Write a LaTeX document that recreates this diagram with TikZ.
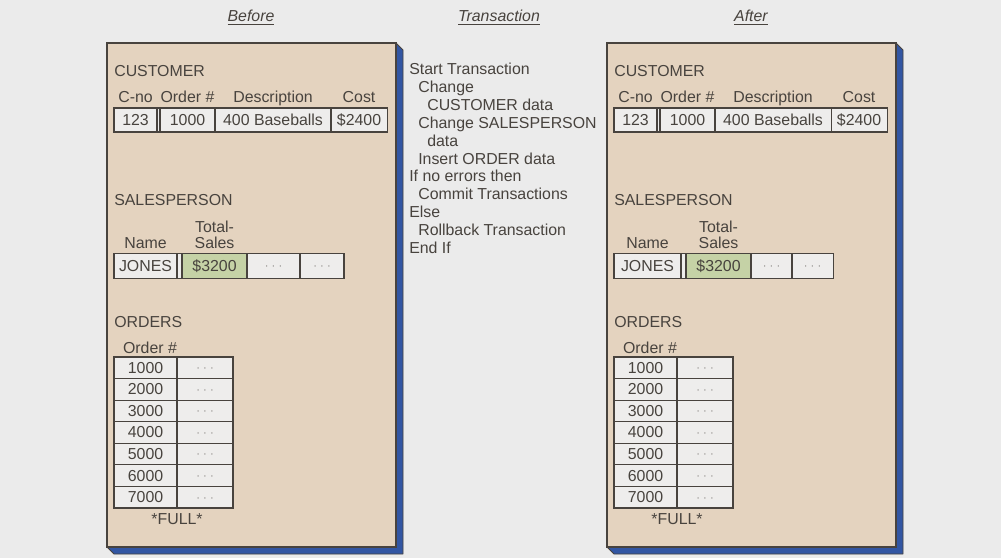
\documentclass[tikz,border=0pt]{standalone}
\usepackage{fontspec}
\setmainfont{Liberation Sans}
\usetikzlibrary{positioning}
\definecolor{pagegray}{RGB}{235,235,235}
\definecolor{paneltan}{RGB}{228,211,191}
\definecolor{edgeblue}{RGB}{50,86,163}
\definecolor{ink}{RGB}{72,67,62}
\definecolor{cellfill}{RGB}{238,237,236}
\definecolor{salesgreen}{RGB}{197,210,166}
\newcommand{\txtfont}{\fontsize{11.3}{11.4}\selectfont}
\newcommand{\gdots}{\textperiodcentered\;\textperiodcentered\;\textperiodcentered}
\tikzset{
  panel/.style={draw=ink, line width=0.8pt, fill=paneltan},
  sideface/.style={draw=ink, line width=0.6pt, fill=edgeblue, line join=round},
  cell/.style={draw=ink, line width=0.8pt, fill=cellfill, inner sep=0pt, outer sep=0pt,
               minimum height=0.6cm, anchor=west, text=ink, font=\txtfont},
  dotcell/.style={cell, text=ink!65, font=\footnotesize, text height=5.4pt, text depth=0pt},
  hdr/.style={text=ink, inner sep=0pt, anchor=base, font=\txtfont},
  lbl/.style={text=ink, inner sep=0pt, anchor=base west, font=\txtfont},
  heading/.style={text=ink, inner sep=0pt, anchor=base, font=\txtfont\itshape}
}

\begin{document}
\begin{tikzpicture}[x=0.025cm, y=-0.025cm]
  \fill[pagegray] (0,0) rectangle (1001,558);
  \useasboundingbox (0,0) rectangle (1001,558);
  % column headings
  \node[heading] (before) at (251,22) {\underline{Before}};
  \node[heading] (trans) at (499,22) {\underline{Transaction}};
  \node[heading] (after) at (751,22) {\underline{After}};
  % the two database states
  \foreach \p/\dx/\wj/\wa/\wb in {b/0/1.575cm/1.325cm/1.1cm, a/500/1.675cm/1.025cm/1.025cm}{
    \begin{scope}[xshift=\dx*0.025cm]
      \draw[sideface] (396,43) -- (403,50) -- (403,554) -- (114,554) -- (107,547) -- (396,547) -- cycle;
      \draw[panel] (107,43) rectangle (396,547);
      % customer
      \node[lbl] (\p-cust) at (114,77) {CUSTOMER};
      \node[cell, minimum width=1.075cm] (\p-cno) at (114,120) {123};
      \node[cell, minimum width=1.375cm, right=0.075cm of \p-cno] (\p-ord) {1000};
      \node[cell, minimum width=2.9cm, right=0pt of \p-ord] (\p-desc) {400 Baseballs};
      \node[cell, minimum width=1.4cm, right=0pt of \p-desc] (\p-cost) {\$2400};
      \draw[cell] (\p-cno.north east) rectangle (\p-ord.south west);
      \node[hdr] (\p-hcno) at ([yshift=0.125cm]\p-cno.north) {C-no};
      \node[hdr] (\p-hord) at ([yshift=0.125cm]\p-ord.north) {Order \#};
      \node[hdr] (\p-hdesc) at ([yshift=0.125cm]\p-desc.north) {Description};
      \node[hdr] (\p-hcost) at ([yshift=0.125cm]\p-cost.north) {Cost};
      % salesperson
      \node[lbl] (\p-sales) at (114,205) {SALESPERSON};
      \node[cell, minimum width=\wj, minimum height=0.625cm] (\p-name) at (114,266) {JONES};
      \node[cell, fill=salesgreen, minimum width=1.625cm, minimum height=0.625cm, right=0.125cm of \p-name] (\p-tot) {\$3200};
      \node[dotcell, minimum width=\wa, minimum height=0.625cm, right=0pt of \p-tot] (\p-s3) {\gdots};
      \node[dotcell, minimum width=\wb, minimum height=0.625cm, right=0pt of \p-s3] (\p-s4) {\gdots};
      \draw[cell] (\p-name.north east) rectangle (\p-tot.south west);
      \node[hdr] (\p-hname) at ([yshift=0.125cm]\p-name.north) {Name};
      \node[hdr, align=center, anchor=south] (\p-htot) at ([yshift=0.125cm]\p-tot.north) {Total-\\Sales};
      % orders
      \node[lbl] (\p-orders) at (114,327) {ORDERS};
      \node[hdr] (\p-ohdr) at (150,353) {Order \#};
      \foreach \n [count=\r] in {1000,2000,...,7000}{
        \node[cell, anchor=north west, minimum width=1.575cm, minimum height=0.539cm] (\p-o\r) at (114,{357+21.57*(\r-1)}) {\n};
        \node[dotcell, minimum width=1.4cm, minimum height=0.539cm, right=0pt of \p-o\r] (\p-x\r) {\gdots};
      }
      \node[hdr] (\p-full) at ([yshift=-0.425cm]\p-o7.south east) {*FULL*};
    \end{scope}
  }
  % transaction steps
  \foreach \ind/\txt [count=\i] in {0/Start Transaction, 1/Change, 2/CUSTOMER data,
      1/Change SALESPERSON, 2/data, 1/Insert ORDER data, 0/If no errors then,
      1/Commit Transactions, 0/Else, 1/Rollback Transaction, 0/End If}
    \node[lbl] (tr\i) at ({409+9*\ind},{75+17.8*(\i-1)}) {\txt};
\end{tikzpicture}
\end{document}
